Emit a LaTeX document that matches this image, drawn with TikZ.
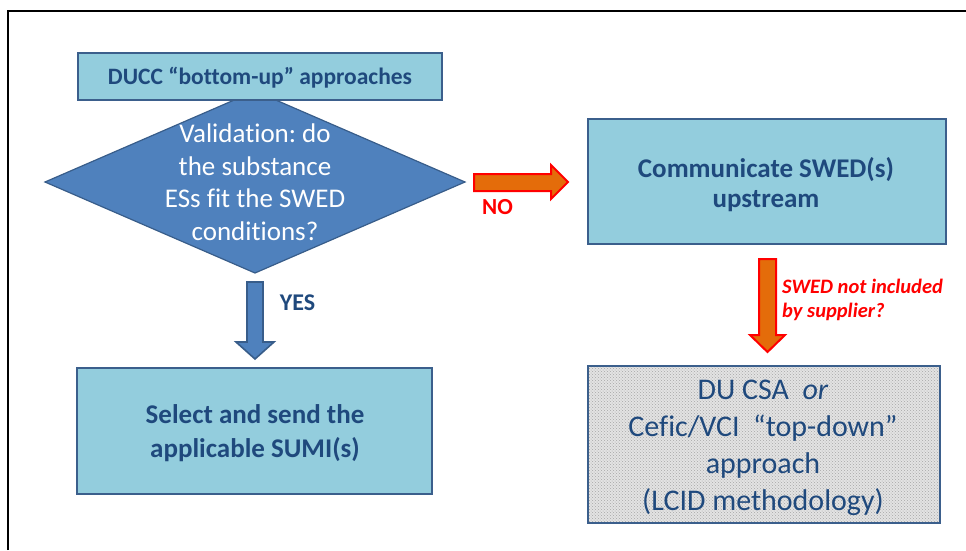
\documentclass[tikz,border=0pt]{standalone}
\usepackage{fontspec}
\setmainfont[Ligatures=NoCommon]{Carlito}
\usetikzlibrary{patterns,shapes.geometric}
\definecolor{boxfill}{HTML}{93CDDD}
\definecolor{boxline}{HTML}{3B5F8C}
\definecolor{dfill}{HTML}{4F81BD}
\definecolor{dline}{HTML}{385D8A}
\definecolor{txtblue}{HTML}{1F497D}
\definecolor{arrorange}{HTML}{E46C0A}
\frenchspacing
\begin{document}
\begin{tikzpicture}[x=1pt,y=-1pt,
  bx/.style={draw=boxline,line width=2.6pt,fill=boxfill},
  btxt/.style={text=txtblue,align=center,inner sep=0pt},
  redarr/.style={draw=red,line width=2pt,fill=arrorange,line join=miter},
  bluearr/.style={draw=dline,line width=1.6pt,fill=dfill,line join=miter}]
\useasboundingbox (0,0) rectangle (966,550);
% frame
\draw[line width=2.2pt] (8,550) -- (8,11) -- (966,11);
% diamond
\draw[draw=dline,line width=1.2pt,fill=dfill] (45,182) -- (255,91) -- (465,182) -- (255,273) -- cycle;
\node[text=white,align=center,inner sep=0pt,font=\fontsize{27}{32.5}\selectfont] (dq) at (255,182)
  {Validation: do\\the substance\\ESs fit the SWED\\conditions?};
% title box
\draw[bx] (78,53) rectangle (442,100);
\node[btxt,anchor=base,font=\bfseries\fontsize{23.5}{28}\selectfont] (title) at (260,84) {DUCC “bottom-up” approaches};
% communicate box
\draw[bx] (588,119) rectangle (946,244);
\node[btxt,font=\bfseries\fontsize{27}{30}\selectfont] (comm) at (766,184.5) {Communicate SWED(s)\\upstream};
% select box
\draw[bx] (77,368) rectangle (432,494);
\node[btxt,font=\bfseries\fontsize{27}{34}\selectfont] (sel) at (255,433) {Select and send the\\applicable SUMI(s)};
% CSA box
\fill[gray!22] (588,366) rectangle (940,523);
\fill[pattern=crosshatch dots,pattern color=gray!70] (588,366) rectangle (940,523);
\draw[draw=boxline,line width=2.6pt] (588,366) rectangle (940,523);
\node[btxt,font=\fontsize{30}{37}\selectfont] (csa) at (763,448)
  {DU CSA \ \textit{or}\\Cefic/VCI \ “top-down”\\approach\\(LCID methodology)};
% NO arrow
\draw[redarr] (474,174) -- (551,174) -- (551,165) -- (568,182) -- (551,199) -- (551,191) -- (474,191) -- cycle;
\node[text=red,inner sep=0pt,anchor=base,font=\bfseries\fontsize{23}{26}\selectfont] (no) at (497.5,214) {NO};
% red down arrow
\draw[redarr] (759,259) -- (776,259) -- (776,335) -- (785,335) -- (767.5,352) -- (750,335) -- (759,335) -- cycle;
\node[text=red,inner sep=0pt,font=\bfseries\itshape\fontsize{20.5}{24}\selectfont,align=left,anchor=west] (q) at (782,299.5) {SWED not included\\by supplier?};
% YES arrow
\draw[bluearr] (247,282) -- (263,282) -- (263,342) -- (274,342) -- (255,359) -- (236,342) -- (247,342) -- cycle;
\node[btxt,anchor=base,font=\bfseries\fontsize{24}{26}\selectfont] (yes) at (297.5,310) {YES};
\end{tikzpicture}
\end{document}
